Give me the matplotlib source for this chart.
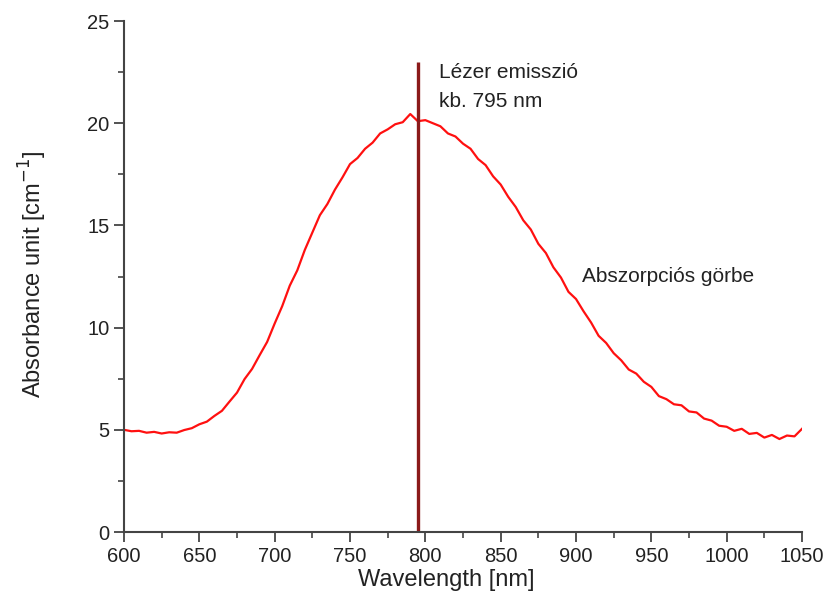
import matplotlib
matplotlib.use("Agg")
import matplotlib.pyplot as plt
from matplotlib.ticker import MultipleLocator

plt.rcParams['font.family'] = ['Liberation Sans', 'DejaVu Sans']

# wavelength [nm] and absorbance
wavelength = list(range(600, 1051, 5))
absorbance = [
    5.00, 4.93, 4.95, 4.86, 4.90, 4.82, 4.88, 4.86, 4.99, 5.08,
    5.27, 5.40, 5.68, 5.93, 6.38, 6.82, 7.48, 7.98, 8.65, 9.30,
    10.20, 11.05, 12.05, 12.80, 13.80, 14.65, 15.50, 16.05, 16.75, 17.35,
    18.00, 18.30, 18.75, 19.05, 19.50, 19.70, 19.95, 20.05, 20.45, 20.10,
    20.15, 20.00, 19.85, 19.50, 19.35, 19.00, 18.75, 18.25, 17.95, 17.40,
    17.00, 16.40, 15.90, 15.25, 14.80, 14.10, 13.65, 12.95, 12.45, 11.75,
    11.40, 10.80, 10.25, 9.60, 9.25, 8.75, 8.40, 7.95, 7.75, 7.35,
    7.10, 6.65, 6.50, 6.25, 6.20, 5.90, 5.85, 5.55, 5.45, 5.20,
    5.15, 4.95, 5.05, 4.80, 4.85, 4.62, 4.75, 4.55, 4.72, 4.68,
    5.05,
]

laser_nm = 795
laser_top = 23

fig = plt.figure(figsize=(8.35, 6.13), dpi=100)
ax = fig.add_axes([0.1485, 0.1321, 0.812, 0.8336])

ax.plot(wavelength, absorbance, color='#ff1010', lw=1.6)
ax.vlines(laser_nm, 0, laser_top, color='#8b1a1a', lw=2.4)

txt = dict(fontsize=15, color='#222222', va='baseline')
ax.text(809, 22.2, 'Lézer emisszió', **txt)
ax.text(809, 20.8, 'kb. 795 nm', **txt)
ax.text(904, 12.25, 'Abszorpciós görbe', **txt)

ax.set_xlim(600, 1050)
ax.set_ylim(0, 25)
ax.xaxis.set_major_locator(MultipleLocator(50))
ax.xaxis.set_minor_locator(MultipleLocator(25))
ax.yaxis.set_major_locator(MultipleLocator(5))
ax.yaxis.set_minor_locator(MultipleLocator(2.5))

for s in ['top', 'right']:
    ax.spines[s].set_visible(False)
for s in ['left', 'bottom']:
    ax.spines[s].set_color('#444444')
    ax.spines[s].set_linewidth(1.5)

ax.tick_params(which='major', direction='out', length=7, width=1.3,
               color='#444444', labelsize=14.5, labelcolor='#222222')
ax.tick_params(which='minor', direction='out', length=4, width=1.2,
               color='#444444')

ax.set_xlabel('Wavelength [nm]', fontsize=17, color='#222222', va='top')
ax.xaxis.set_label_coords(0.475, -0.073)
ax.set_ylabel('Absorbance unit [cm$^{-1}$]', fontsize=17, color='#222222')
ax.yaxis.set_label_coords(-0.11, 0.505)

fig.savefig('out.png', dpi=100)
